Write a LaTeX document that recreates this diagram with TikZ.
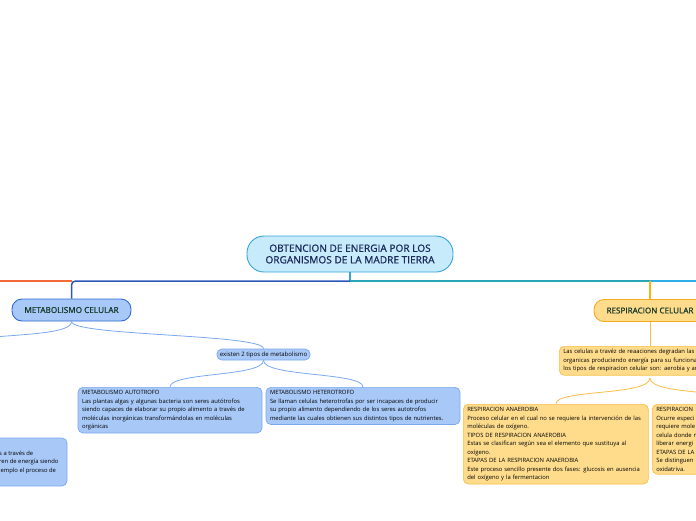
\documentclass[tikz,border=0pt]{standalone}
\usepackage{fontspec}
\setmainfont{Open Sans}
\newfontfamily\titlefont{Open Sans}[FakeBold=1.2]
\definecolor{rootFill}{HTML}{C8EBFB}
\definecolor{rootBorder}{HTML}{35A3DA}
\definecolor{rootText}{HTML}{1B2B5E}
\definecolor{blueFill}{HTML}{A8C9F8}
\definecolor{blueBorder}{HTML}{7AA8EE}
\definecolor{blueDark}{HTML}{2F6AD4}
\definecolor{yellowFill}{HTML}{FEDC8C}
\definecolor{yellowBorder}{HTML}{F8BE45}
\definecolor{yellowDark}{HTML}{F6A91E}
\definecolor{nodeText}{HTML}{173A2B}
\definecolor{branchOrange}{HTML}{F26A3A}
\definecolor{branchBlue}{HTML}{2D56B6}
\definecolor{branchTeal}{HTML}{27A6B6}
\definecolor{branchSky}{HTML}{2DAEE6}
\definecolor{branchYellow}{HTML}{F7B512}

\begin{document}
\begin{tikzpicture}[x=1pt, y=-1pt]
	\tikzstyle{rootStyle}=[draw=rootBorder, fill=rootFill, line width=0.9pt, rounded corners=17pt, minimum width=206pt, minimum height=36pt, align=center, text=rootText, font=\titlefont\fontsize{10.1}{11.6}\selectfont]
	\tikzstyle{mainBlue}=[draw=blueDark, fill=blueFill, line width=0.9pt, rounded corners=10pt, minimum width=119pt, minimum height=22pt, text=nodeText, font=\titlefont\fontsize{8.2}{9}\selectfont]
	\tikzstyle{mainYellow}=[draw=yellowDark, fill=yellowFill, line width=0.9pt, rounded corners=10pt, minimum width=112pt, minimum height=22pt, text=nodeText, font=\titlefont\fontsize{8.1}{9}\selectfont]
	\tikzstyle{blueBox}=[draw=blueBorder, fill=blueFill, line width=0.7pt, rounded corners=5pt, align=left, inner xsep=4pt, inner ysep=3pt, text=black, font=\fontsize{5.85}{8.5}\selectfont]
	\tikzstyle{yellowBox}=[draw=yellowBorder, fill=yellowFill, line width=0.7pt, rounded corners=5pt, align=left, inner xsep=4pt, inner ysep=3pt, text=black, font=\fontsize{5.85}{8.5}\selectfont]
	\tikzstyle{plainText}=[align=left, inner sep=0pt, text=black, font=\fontsize{5.85}{8.5}\selectfont]
	\tikzstyle{trunk}=[line width=1.5pt]
	\tikzstyle{twig}=[line width=0.8pt]
	\useasboundingbox (0,0) rectangle (696,520);
	% centre
	\node[rootStyle] (root) at (350,254) {OBTENCION DE ENERGIA POR LOS\\ORGANISMOS DE LA MADRE TIERRA};
	\coordinate (hub) at (350,281);
	\coordinate (farLeft) at (-10,281);
	\coordinate (farRight) at (710,281);
	% left branch
	\node[mainBlue] (metab) at (71.5,310) {METABOLISMO CELULAR};
	\node[blueBox, font=\fontsize{6}{7}\selectfont, inner xsep=3pt, inner ysep=2.5pt] (tipos) at (263.5,354.5) {existen 2 tipos de metabolismo};
	\node[blueBox, text width=176pt, anchor=north] (auto) at (170,387) {METABOLISMO AUTOTROFO\\Las plantas algas y algunas bacteria son seres autótrofos\\siendo capaces de elaborar su propio alimento a través de\\moléculas inorgánicas transformándolas en moléculas\\orgánicas};
	\node[blueBox, text width=186pt, anchor=north] (hetero) at (363,387) {METABOLISMO HETEROTROFO\\Se llaman celulas heterotrofas por ser incapaces de producir\\su propio alimento dependiendo de los seres autotrofos\\mediante las cuales obtienen sus distintos tipos de nutrientes.};
	\node[blueBox, minimum width=185pt, minimum height=48pt] (leftBox) at (-25.5,462) {};
	\node[plainText, anchor=west] (leftText) at (-1,462) {s a través de\\ren de energía siendo\\jemplo el proceso de};
	\coordinate (leftTwig) at (-20,338);
	% right branch
	\node[mainYellow] (resp) at (650,310.5) {RESPIRACION CELULAR};
	\node[yellowBox, text width=174pt, anchor=north west] (degrad) at (559,346) {Las celulas a travéz de reaaciones degradan las m\\organicas produciendo energía para su funciona\\los tipos de respiracion celular son: aerobia y an};
	\node[yellowBox, text width=177pt, anchor=north west] (anaer) at (463,404) {RESPIRACION ANAEROBIA\\Proceso celular en el cual no se requiere la intervención de las\\moléculas de oxígeno.\\TIPOS DE RESPIRACION ANAEROBIA\\Estas se clasifican según sea el elemento que sustituya al\\oxígeno.\\ETAPAS DE LA RESPIRACION ANAEROBIA\\Este proceso sencillo presente dos fases: glucosis en ausencia\\del oxígeno y la fermentacion};
	\node[yellowBox, text width=177pt, anchor=north west] (aerob) at (652,404) {RESPIRACION\\Ocurre especi\\requiere mole\\celula donde n\\liberar energi\\ETAPAS DE LA\\Se distinguen\\oxidatriva.};
	% trunk lines
	\draw[trunk, rootBorder] (root.south) -- (hub);
	\draw[trunk, branchOrange] (metab.north |- hub) -- (farLeft);
	\draw[trunk, branchBlue, rounded corners=4pt] (hub) -| (metab.north);
	\draw[trunk, branchSky] (resp.north |- hub) -- (farRight);
	\draw[trunk, branchTeal] (hub) -- (resp.north |- hub);
	\draw[trunk, branchYellow] (resp.north |- hub) -- (resp.north);
	% twigs
	\draw[twig, blueBorder] (metab.south) .. controls (71.5,333) and (30,334) .. (leftTwig);
	\draw[twig, blueBorder] (metab.south) .. controls (71.5,336) and (263.5,334) .. (tipos.north);
	\draw[twig, blueBorder] (tipos.south) .. controls (263.5,377) and (170,372) .. (auto.north);
	\draw[twig, blueBorder] (tipos.south) .. controls (263.5,377) and (363,372) .. (hetero.north);
	\draw[twig, yellowBorder] (resp.south) -- (degrad.north -| resp.south);
	\draw[twig, yellowBorder] (650,378) .. controls (650,396) and (555.5,389) .. (anaer.north);
	\draw[twig, yellowBorder] (650,378) .. controls (650,396) and (744.5,389) .. (aerob.north);
\end{tikzpicture}
\end{document}
